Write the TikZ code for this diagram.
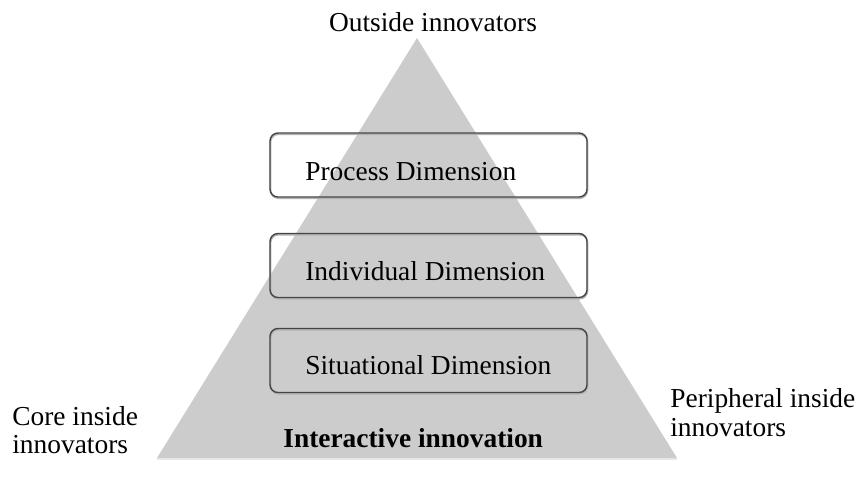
\documentclass[tikz,border=0pt]{standalone}
\usepackage{fontspec}
\setmainfont{Liberation Serif}
\definecolor{pyrgray}{HTML}{CCCCCC}
\definecolor{boxline}{HTML}{454545}
\begin{document}
\begin{tikzpicture}[x=0.02cm, y=-0.02cm,
          every node/.style = {inner sep=0pt, font=\fontsize{15.6}{17.6}\selectfont},
          dimbox/.style = {draw=boxline, line width=0.8pt, rounded corners=4.5pt,
                           minimum width=317*0.02cm, minimum height=64*0.02cm,
                           preaction={draw=black!30, line width=0.9pt,
                                      transform canvas={xshift=0.3pt, yshift=-0.7pt}}},
          dimtext/.style = {anchor=base west},
          sidetext/.style = {anchor=base west, align=left, font=\fontsize{15.6}{17}\selectfont}]
          \useasboundingbox (0,0) rectangle (858,488);
          % pyramid
          \coordinate (apex) at (417,38);
          \coordinate (baseL) at (157,458);
          \coordinate (baseR) at (677,458);
          \fill[gray!30, opacity=0.6] ([yshift=-1.2pt]baseL) -- ([yshift=-1.2pt]baseR) -- (baseR) -- (baseL) -- cycle;
          \fill[pyrgray] (apex) -- (baseR) -- (baseL) -- cycle;
          % dimensions
          \node[dimbox] (process) at (428.5,165) {};
          \node[dimbox] (individual) at (428.5,265.5) {};
          \node[dimbox] (situational) at (428.5,360.5) {};
          \node[dimtext] (processtxt) at (305,180) {Process Dimension};
          \node[dimtext] (individualtxt) at (305,280) {Individual Dimension};
          \node[dimtext] (situationaltxt) at (305,374) {Situational Dimension};
          % labels
          \node[anchor=base] (outside) at (433,31) {Outside innovators};
          \node[dimtext] (interactive) at (283,447) {\bfseries Interactive innovation};
          \node[sidetext] (core) at (12,453) {Core inside\\[-1.6pt]innovators};
          \node[sidetext] (peripheral) at (670,436) {Peripheral inside\\[-0.8pt]innovators};
\end{tikzpicture}
\end{document}
